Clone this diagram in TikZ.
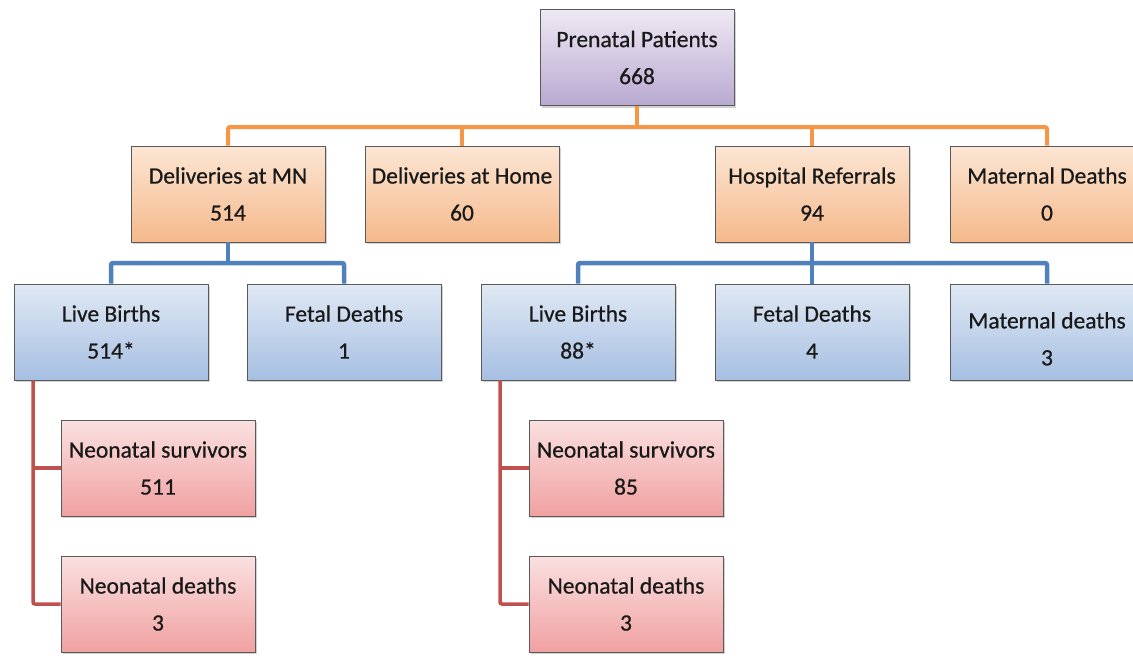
\documentclass[tikz,border=0pt]{standalone}
\usepackage{fontspec}
\setmainfont{Carlito}[FakeBold=0.6]
\usetikzlibrary{shadows}
\definecolor{borderc}{HTML}{5A5A5A}
\definecolor{lineo}{HTML}{F79646}
\definecolor{lineb}{HTML}{4F81BD}
\definecolor{liner}{HTML}{C0504D}
\definecolor{pTop}{HTML}{EEE9F4}
\definecolor{pBot}{HTML}{B9A9D1}
\definecolor{oTop}{HTML}{FCE6D4}
\definecolor{oBot}{HTML}{F5B98B}
\definecolor{bTop}{HTML}{E0E9F4}
\definecolor{bBot}{HTML}{A6BFE2}
\definecolor{rTop}{HTML}{FAE0E0}
\definecolor{rBot}{HTML}{F1A1A1}
\tikzset{
  box/.style={draw=borderc, line width=0.8pt, minimum width=194pt, minimum height=96pt,
    align=center, inner sep=0pt, text=black!90,
    font=\fontsize{23.5}{37}\selectfont,
    drop shadow={shadow xshift=2pt, shadow yshift=-2pt, fill=black!30, opacity=0.6}},
  purplebox/.style={box, top color=pTop, bottom color=pBot},
  orangebox/.style={box, top color=oTop, bottom color=oBot},
  bluebox/.style={box, top color=bTop, bottom color=bBot},
  redbox/.style={box, top color=rTop, bottom color=rBot},
  oline/.style={draw=lineo, line width=4pt, rounded corners=2pt},
  bline/.style={draw=lineb, line width=4.5pt, rounded corners=2pt},
  rline/.style={draw=liner, line width=3.5pt, rounded corners=2pt},
}
\begin{document}
\begin{tikzpicture}[x=1pt,y=-1pt]
\useasboundingbox (0,0) rectangle (1133,657);
\coordinate (ob) at (637,127);
\coordinate (bb1) at (228,263);
\coordinate (bb2) at (812,263);
% boxes
\node[purplebox] (pp) at (637,57.5) {Prenatal Patients\\668};
\node[orangebox] (mn) at (228,194) {Deliveries at MN\\514};
\node[orangebox] (home) at (462,194) {Deliveries at Home\\60};
\node[orangebox] (hr) at (812,194) {Hospital Referrals\\94};
\node[orangebox] (md) at (1047,194) {Maternal Deaths\\0};
\node[bluebox] (lb1) at (111,332) {Live Births\\514*};
\node[bluebox] (fd1) at (344,332) {Fetal Deaths\\1};
\node[bluebox] (lb2) at (578,332) {Live Births\\88*};
\node[bluebox] (fd2) at (812,332) {Fetal Deaths\\4};
\node[bluebox] (mdt) at (1047,332) {\rule{0pt}{30pt}Maternal deaths\\3};
\node[redbox] (ns1) at (158,468) {Neonatal survivors\\511};
\node[redbox] (nd1) at (158,604) {Neonatal deaths\\3};
\node[redbox] (ns2) at (626,468) {Neonatal survivors\\85};
\node[redbox] (nd2) at (626,604) {Neonatal deaths\\3};
% orange
\draw[oline] (pp.south) -- (ob);
\draw[oline] (mn.north) |- (ob) -| (md.north);
\draw[oline] (home.north) -- (home.north |- ob);
\draw[oline] (hr.north) -- (hr.north |- ob);
% blue
\draw[bline] (mn.south) -- (bb1);
\draw[bline] (lb1.north) |- (bb1) -| (fd1.north);
\draw[bline] (hr.south) -- (bb2);
\draw[bline] (lb2.north) |- (bb2) -| (mdt.north);
\draw[bline] (fd2.north) -- (fd2.north |- bb2);
% red
\draw[rline] ([xshift=-78pt]lb1.south) |- (nd1.west);
\draw[rline] ([xshift=-78pt]lb1.south |- ns1.west) -- (ns1.west);
\draw[rline] ([xshift=-78pt]lb2.south) |- (nd2.west);
\draw[rline] ([xshift=-78pt]lb2.south |- ns2.west) -- (ns2.west);
\end{tikzpicture}
\end{document}
